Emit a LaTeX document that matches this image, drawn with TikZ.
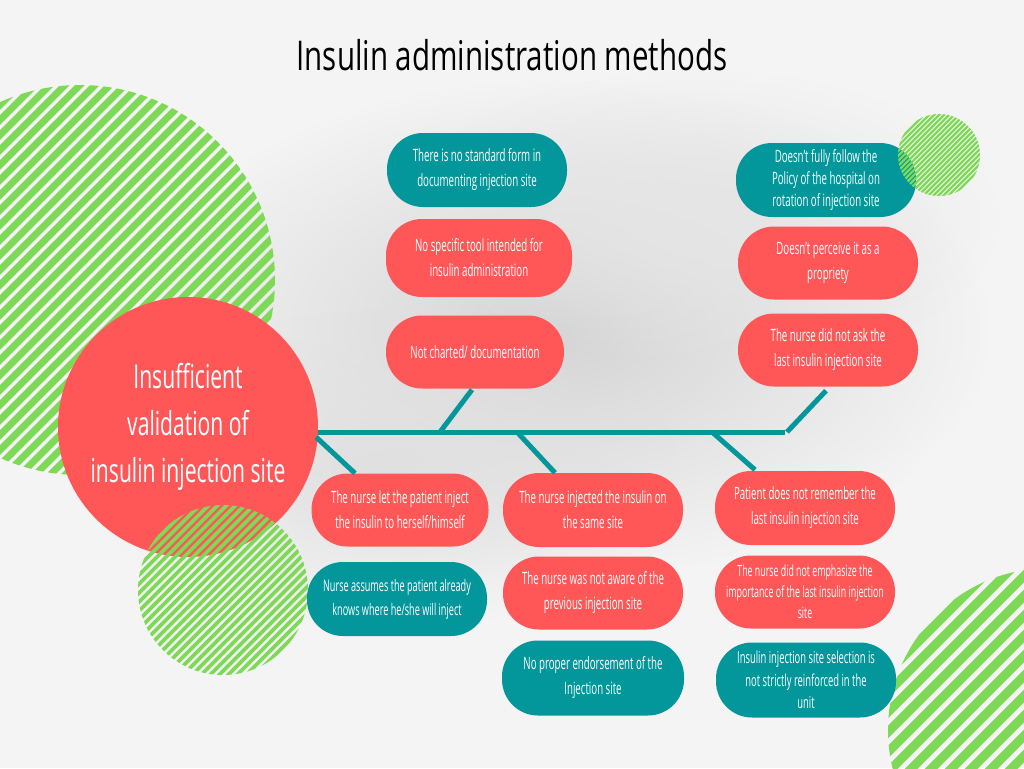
\documentclass[tikz,border=0pt]{standalone}
\usepackage{fontspec}
\setmainfont{Open Sans}
\newfontfamily\boxfont[FakeStretch=0.57]{Open Sans}
\newfontfamily\headfont[FakeStretch=0.64]{Open Sans}
\newfontfamily\titlefont[FakeStretch=0.72]{Open Sans}
\usetikzlibrary{fadings,calc}
\definecolor{tealc}{HTML}{03979B}
\definecolor{coral}{HTML}{FF5757}
\definecolor{lgreen}{HTML}{7ED957}
\definecolor{bgc}{HTML}{F4F4F4}
\tikzfading[name=softfade, inner color=transparent!0, outer color=transparent!100]
\newcommand\stripedisc[5]{%
  \begin{scope}
    \clip (#1,#2) circle[radius=#3];
    \pgfmathsetmacro\nmax{int(2*#3/#4)+1}
    \foreach \k in {-\nmax,...,\nmax}{
      \draw[lgreen, line width=#5] ($(#1,#2)+(\k*#4-1.5*#3,1.5*#3)$) -- ++(3*#3,-3*#3);
    }
  \end{scope}}
\tikzset{
  box/.style={rectangle, rounded corners=36pt, minimum width=180pt, minimum height=74pt,
    align=center, text=white, font=\boxfont\fontsize{17}{25}\selectfont, inner sep=0pt},
  tbox/.style={box, fill=tealc},
  rbox/.style={box, fill=coral},
  bone/.style={draw=tealc, line width=5pt},
}
\begin{document}
\begin{tikzpicture}[x=1pt,y=-1pt]
  % background
  \fill[bgc] (0,0) rectangle (1024,768);
  \useasboundingbox (0,0) rectangle (1024,768);
  \fill[black!17, path fading=softfade] (560,330) ellipse [x radius=430, y radius=250];
  \fill[black!12, path fading=softfade] (380,470) ellipse [x radius=300, y radius=160];
  \fill[black!10, path fading=softfade] (700,220) ellipse [x radius=300, y radius=150];

  % title
  \node (title) at (512,55) {\titlefont\fontsize{41}{48}\selectfont Insulin administration methods};

  % big striped disc
  \stripedisc{80}{280}{195}{15}{7pt}

  % head circle
  \node[circle, fill=coral, minimum size=260pt, inner sep=0pt, align=center, text=white,
        font=\headfont\fontsize{33}{47}\selectfont] (head) at (188,427)
        {Insufficient\\validation of\\insulin injection site};

  \stripedisc{223}{590}{85}{9}{3.8pt}
  \stripedisc{1050}{730}{162}{20}{9pt}

  % boxes upper
  \node[tbox] (b1) at (477,170) {There is no standard form in\\documenting injection site};
  \node[rbox, minimum height=78pt, minimum width=186pt] (b2) at (479,258) {No specific tool intended for\\insulin administration};
  \node[rbox, minimum height=73pt, minimum width=178pt] (b3) at (475,352) {Not charted/ documentation};

  \node[tbox, font=\boxfont\fontsize{17}{22}\selectfont] (b4) at (826,180) {Doesn’t fully follow the\\Policy of the hospital on\\rotation of injection site};
  \node[rbox, minimum height=73pt] (b5) at (828,263) {Doesn’t perceive it as a\\propriety};
  \node[rbox, minimum height=73pt] (b6) at (828,350) {The nurse did not ask the\\last insulin injection site};

  % boxes lower
  \node[rbox, minimum height=73pt, minimum width=177pt] (b7) at (400,510) {The nurse let the patient inject\\the insulin to herself/himself};
  \node[tbox, font=\boxfont\fontsize{16}{24}\selectfont] (b8) at (397,599) {Nurse assumes the patient already\\knows where he/she will inject};

  \node[rbox] (b9) at (593,510) {The nurse injected the insulin on\\the same site};
  \node[rbox, minimum height=73pt] (b10) at (593,593) {The nurse was not aware of the\\previous injection site};
  \node[tbox, minimum width=182pt, minimum height=75pt] (b11) at (593,678) {No proper endorsement of the\\Injection site};

  \node[rbox] (b12) at (805,508) {Patient does not remember the\\last insulin injection site};
  \node[rbox, minimum height=73pt, font=\boxfont\fontsize{15.5}{21}\selectfont] (b13) at (805,592) {The nurse did not emphasize the\\importance of the last insulin injection\\site};
  \node[tbox, minimum height=75pt, font=\boxfont\fontsize{16.5}{22.5}\selectfont] (b14) at (806,680) {Insulin injection site selection is\\not strictly reinforced in the\\unit};

  \stripedisc{939}{155}{41}{5}{2.2pt}

  % fishbone
  \coordinate (spineEnd) at (785,432);
  \coordinate (u1) at (440,432);
  \coordinate (u2) at (787,432);
  \coordinate (d1) at (316,437);
  \coordinate (d2) at (517,432);
  \coordinate (d3) at (712,432);
  \draw[bone] (head.east |- spineEnd) -- (spineEnd);
  \draw[bone] (u1) -- ($(b3.south)+(-3,1)$);
  \draw[bone] (u2) -- ($(b6.south)+(-2,4)$);
  \draw[bone] (d1) -- ($(b7.north)+(-45,0)$);
  \draw[bone] (d2) -- ($(b9.north)+(-38,0)$);
  \draw[bone] (d3) -- ($(b12.north)+(-50,-1)$);
\end{tikzpicture}
\end{document}
